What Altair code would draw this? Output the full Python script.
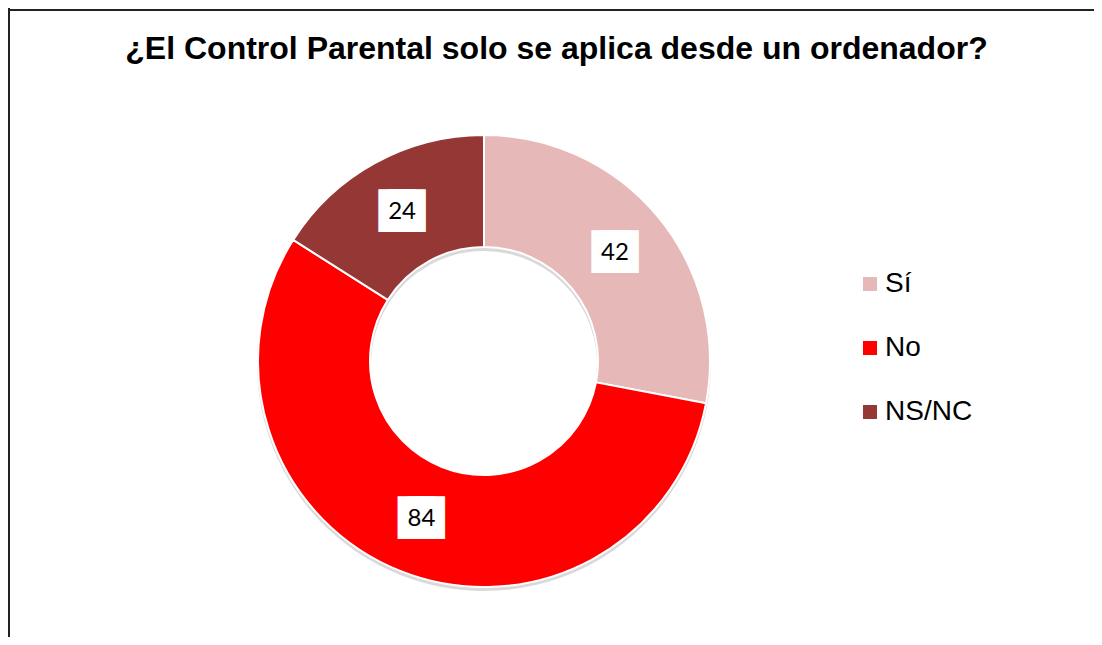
import altair as alt
import pandas as pd

titulo = "¿El Control Parental solo se aplica desde un ordenador?"
categorias = ["Sí", "No", "NS/NC"]
valores = [42, 84, 24]
colores = ["#E6B9B8", "#FF0000", "#953735"]

df = pd.DataFrame({"cat": categorias, "val": valores, "orden": [0, 1, 2]})

W, H = 1086, 629
CX, CY = 476, 353

color = alt.Color("cat:N", scale=alt.Scale(domain=categorias, range=colores),
                  sort=categorias,
                  legend=alt.Legend(title=None, orient="none", legendX=848, legendY=262,
                                    symbolType="square", symbolSize=196, symbolStrokeWidth=0,
                                    labelFont="Liberation Sans", labelFontSize=28,
                                    labelColor="#000000", rowPadding=36, labelOffset=1,
                                    padding=0))

theta = alt.Theta("val:Q", stack=True)
order = alt.Order("orden:Q")

base = alt.Chart(df)

shadow = base.mark_arc(radius=227, radius2=113, color="#a0a0a0", opacity=0.4).encode(
    theta=theta, order=order, x=alt.value(CX), y=alt.value(CY + 3))

arcs = base.mark_arc(radius=226, radius2=114, stroke="white", strokeWidth=2).encode(
    theta=theta, color=color, order=order, x=alt.value(CX), y=alt.value(CY))

boxes = []
for off in (-9.5, 0, 9.5):
    boxes.append(base.mark_text(radius=170, text="█", font="DejaVu Sans", fontSize=36,
                                color="white", dx=off, baseline="middle").encode(
        theta=theta, order=order, x=alt.value(CX), y=alt.value(CY)))

labels = base.mark_text(radius=170, font="Lato", fontSize=24, color="#000000",
                        baseline="middle").encode(
    theta=theta, order=order, text="val:Q", x=alt.value(CX), y=alt.value(CY))

title = alt.Chart(pd.DataFrame({"t": [titulo]})).mark_text(
    font="Liberation Sans", fontSize=32, fontWeight="bold", color="#000000",
    baseline="alphabetic", align="center").encode(
    text="t:N", x=alt.value(548.5), y=alt.value(51))

top_rule = alt.Chart(df).mark_rule(color="#222222", strokeWidth=2).encode(
    x=alt.value(0), x2=alt.value(W), y=alt.value(2))
left_rule = alt.Chart(df).mark_rule(color="#222222", strokeWidth=2).encode(
    x=alt.value(1), y=alt.value(0), y2=alt.value(H))

chart = alt.layer(shadow, arcs, *boxes, labels, title, top_rule, left_rule).properties(
    width=W, height=H, padding=0, autosize=alt.AutoSizeParams(type="none")
).configure_view(stroke=None)

chart.save("out.html", embed_options={"renderer": "svg", "actions": False})
